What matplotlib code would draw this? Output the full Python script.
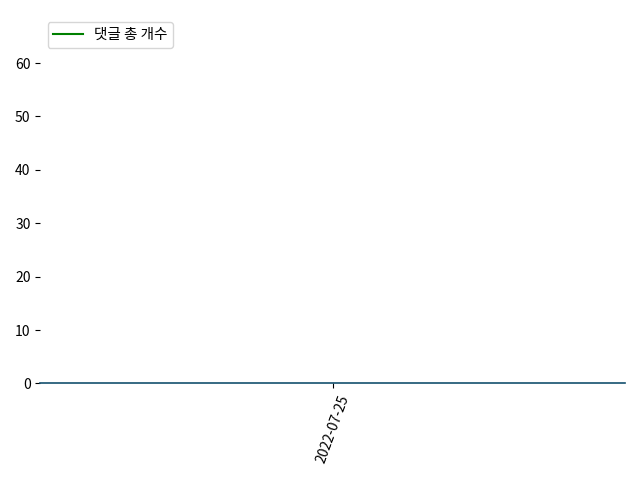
import matplotlib
matplotlib.use('Agg')
import matplotlib.pyplot as plt
import matplotlib.dates as mdates
import pandas as pd

plt.rcParams['font.family'] = ['Noto Sans CJK KR', 'DejaVu Sans']

dates = pd.to_datetime(['2022-07-25'])
comment_counts = [0]

fig, ax = plt.subplots(figsize=(6.4, 4.8), dpi=100)
ax.plot(dates, comment_counts, color='green', label='댓글 총 개수')
ax.axhline(0, color='#14506e', linewidth=1.2, clip_on=False)

ax.set_ylim(0, 69)
ax.set_yticks([0, 10, 20, 30, 40, 50, 60])
ax.set_xticks(dates)
ax.xaxis.set_major_formatter(mdates.DateFormatter('%Y-%m-%d'))
plt.xticks(rotation=70)

for s in ax.spines.values():
    s.set_visible(False)

ax.legend(loc='upper left', prop={'size': 10.5})
plt.tight_layout()
plt.savefig('out.png')
